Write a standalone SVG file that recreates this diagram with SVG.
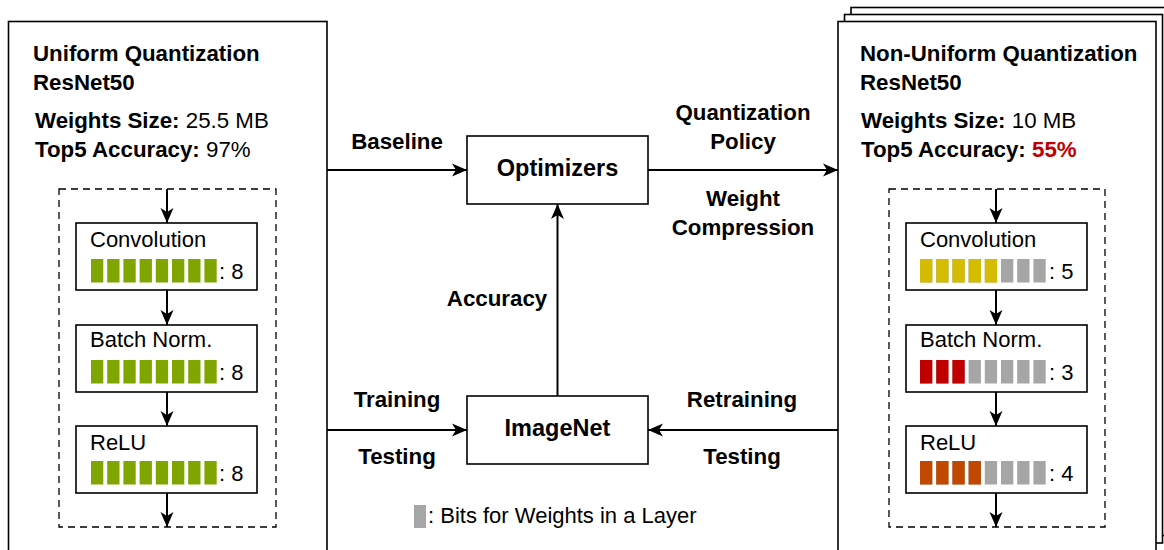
<svg xmlns="http://www.w3.org/2000/svg" width="1164" height="550" viewBox="0 0 1164 550">
<style>
text{font-family:"Liberation Sans",Arial,sans-serif;font-size:22px;fill:#000}
.b{font-weight:bold}
.t{font-size:22.3px}
.big{font-size:23.5px}
.box{fill:#fff;stroke:#000;stroke-width:1.6}
.dash{fill:none;stroke:#000;stroke-width:1.3;stroke-dasharray:7 5}
.ln{fill:none;stroke:#000;stroke-width:2}
.g{fill:#7fa600}.y{fill:#d4bc00}.r{fill:#c00000}.o{fill:#c04800}.n{fill:#a6a6a6}
.mid{text-anchor:middle}
</style>
<defs>
<marker id="ah" markerUnits="userSpaceOnUse" markerWidth="16" markerHeight="14" refX="15" refY="7" orient="auto">
<path d="M0,0.5 L15,7 L0,13.5 L4,7 z" fill="#000"/>
</marker>
<g id="bars8">
<rect x="0" y="0" width="12.3" height="23.5"/><rect x="16.2" y="0" width="12.3" height="23.5"/><rect x="32.4" y="0" width="12.3" height="23.5"/><rect x="48.6" y="0" width="12.3" height="23.5"/><rect x="64.8" y="0" width="12.3" height="23.5"/><rect x="81" y="0" width="12.3" height="23.5"/><rect x="97.2" y="0" width="12.3" height="23.5"/><rect x="113.4" y="0" width="12.3" height="23.5"/>
</g>
</defs>
<rect width="1164" height="550" fill="#fff"/>

<g id="uniform">
<rect class="box" x="8.5" y="21.5" width="318.5" height="540"/>
<text class="b t" x="33" y="61">Uniform Quantization</text>
<text class="b t" x="33" y="90">ResNet50</text>
<text class="t" x="35" y="128"><tspan class="b">Weights Size:</tspan> 25.5 MB</text>
<text class="t" x="35" y="157"><tspan class="b">Top5 Accuracy:</tspan> 97%</text>
<rect class="dash" x="59" y="189" width="217" height="338"/>
</g>

<g id="nonuniform">
<rect class="box" x="851" y="7.5" width="330" height="528"/>
<rect class="box" x="844.5" y="14.5" width="318" height="528.5"/>
<rect class="box" x="838" y="21.5" width="318" height="540"/>
<text class="b t" x="860" y="61">Non-Uniform Quantization</text>
<text class="b t" x="860" y="90">ResNet50</text>
<text class="t" x="861" y="128"><tspan class="b">Weights Size:</tspan> 10 MB</text>
<text class="t" x="861" y="157"><tspan class="b">Top5 Accuracy: </tspan><tspan class="b" style="fill:#c00000">55%</tspan></text>
<rect class="dash" x="889" y="189" width="216" height="338"/>
</g>

<g id="u-conv">
<rect class="box" x="76" y="223" width="181" height="67"/>
<text x="90" y="247">Convolution</text>
<g class="g"><use href="#bars8" x="91" y="259"/></g>
<text x="219" y="279">: 8</text>
</g>
<g id="u-bn">
<rect class="box" x="76" y="325" width="181" height="67"/>
<text x="90" y="347">Batch Norm.</text>
<g class="g"><use href="#bars8" x="91" y="360"/></g>
<text x="219" y="380">: 8</text>
</g>
<g id="u-relu">
<rect class="box" x="76" y="426" width="181" height="67"/>
<text x="90" y="450">ReLU</text>
<g class="g"><use href="#bars8" x="91" y="461"/></g>
<text x="219" y="481">: 8</text>
</g>

<g id="n-conv">
<rect class="box" x="906" y="223" width="181" height="67"/>
<text x="920" y="247">Convolution</text>
<g class="n"><use href="#bars8" x="920" y="259"/></g>
<g class="y"><rect x="920" y="259" width="12.3" height="23.5"/><rect x="936.2" y="259" width="12.3" height="23.5"/><rect x="952.4" y="259" width="12.3" height="23.5"/><rect x="968.6" y="259" width="12.3" height="23.5"/><rect x="984.8" y="259" width="12.3" height="23.5"/></g>
<text x="1049" y="279">: 5</text>
</g>
<g id="n-bn">
<rect class="box" x="906" y="325" width="181" height="67"/>
<text x="920" y="347">Batch Norm.</text>
<g class="n"><use href="#bars8" x="920" y="360"/></g>
<g class="r"><rect x="920" y="360" width="12.3" height="23.5"/><rect x="936.2" y="360" width="12.3" height="23.5"/><rect x="952.4" y="360" width="12.3" height="23.5"/></g>
<text x="1049" y="380">: 3</text>
</g>
<g id="n-relu">
<rect class="box" x="906" y="426" width="181" height="67"/>
<text x="920" y="450">ReLU</text>
<g class="n"><use href="#bars8" x="920" y="461"/></g>
<g class="o"><rect x="920" y="461" width="12.3" height="23.5"/><rect x="936.2" y="461" width="12.3" height="23.5"/><rect x="952.4" y="461" width="12.3" height="23.5"/><rect x="968.6" y="461" width="12.3" height="23.5"/></g>
<text x="1049" y="481">: 4</text>
</g>

<g id="optimizers">
<rect class="box" x="467" y="136" width="181" height="68"/>
<text class="b big mid" x="557.5" y="176">Optimizers</text>
</g>
<g id="imagenet">
<rect class="box" x="467" y="396" width="181" height="68"/>
<text class="b big mid" x="557.5" y="436">ImageNet</text>
</g>

<g id="legend">
<rect class="n" x="414" y="505" width="12" height="23"/>
<text x="428" y="523">: Bits for Weights in a Layer</text>
</g>

<g id="connectors">
<line class="ln" x1="167" y1="189" x2="167" y2="223" marker-end="url(#ah)"/>
<line class="ln" x1="167" y1="290" x2="167" y2="325" marker-end="url(#ah)"/>
<line class="ln" x1="167" y1="392" x2="167" y2="426" marker-end="url(#ah)"/>
<line class="ln" x1="167" y1="493" x2="167" y2="527" marker-end="url(#ah)"/>
<line class="ln" x1="996" y1="189" x2="996" y2="223" marker-end="url(#ah)"/>
<line class="ln" x1="996" y1="290" x2="996" y2="325" marker-end="url(#ah)"/>
<line class="ln" x1="996" y1="392" x2="996" y2="426" marker-end="url(#ah)"/>
<line class="ln" x1="996" y1="493" x2="996" y2="527" marker-end="url(#ah)"/>
<line class="ln" x1="327" y1="170" x2="467" y2="170" marker-end="url(#ah)"/>
<line class="ln" x1="648" y1="170" x2="838" y2="170" marker-end="url(#ah)"/>
<line class="ln" x1="557.5" y1="396" x2="557.5" y2="204" marker-end="url(#ah)"/>
<line class="ln" x1="327" y1="430" x2="467" y2="430" marker-end="url(#ah)"/>
<line class="ln" x1="838" y1="430" x2="648" y2="430" marker-end="url(#ah)"/>
<text class="b t mid" x="397" y="149">Baseline</text>
<text class="b t mid" x="743" y="120">Quantization</text>
<text class="b t mid" x="743" y="149">Policy</text>
<text class="b t mid" x="743" y="206">Weight</text>
<text class="b t mid" x="743" y="235">Compression</text>
<text class="b t mid" x="497" y="306">Accuracy</text>
<text class="b t mid" x="397" y="407">Training</text>
<text class="b t mid" x="397" y="464">Testing</text>
<text class="b t mid" x="742" y="407">Retraining</text>
<text class="b t mid" x="742" y="464">Testing</text>
</g>
</svg>
